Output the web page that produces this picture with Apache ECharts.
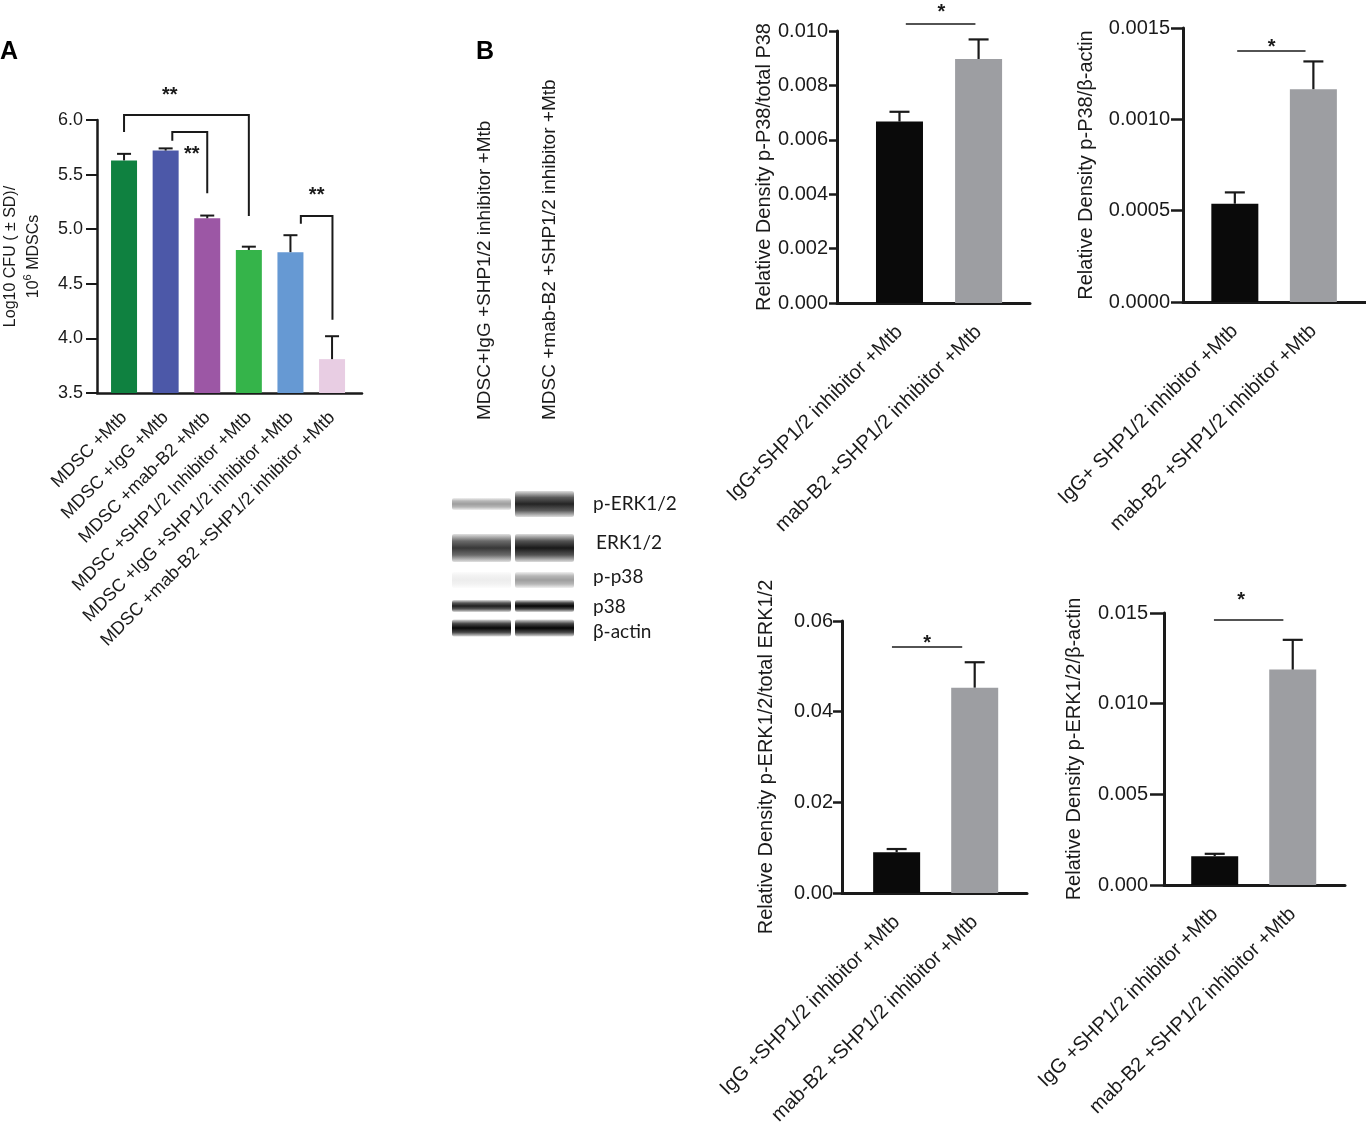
<!DOCTYPE html>
<html>
<head>
<meta charset="utf-8">
<script src="https://cdn.jsdelivr.net/npm/echarts@6/dist/echarts.min.js"></script>
<style>
  html, body { margin: 0; padding: 0; background: #fff; }
  #main { width: 1366px; height: 1128px; }
</style>
</head>
<body>
<div id="main"></div>
<script>
const FONT = '"Liberation Sans", Arial, sans-serif';
const INK = '#1a1a1a';

// ---- Panel A: Log10 CFU per 10^6 MDSCs ----
const groupsA = [
  'MDSC +Mtb',
  'MDSC +IgG +Mtb',
  'MDSC +mab-B2 +Mtb',
  'MDSC +SHP1/2 Inhibitor +Mtb',
  'MDSC +IgG +SHP1/2 inhibitor +Mtb',
  'MDSC +mab-B2 +SHP1/2 inhibitor +Mtb'
];
const cfuMean = [5.63, 5.72, 5.10, 4.81, 4.79, 3.81];
const cfuSD = [0.06, 0.02, 0.025, 0.03, 0.155, 0.21];
const colorsA = ['#0f8140', '#4c58a8', '#9c57a5', '#35b44a', '#6699d3', '#e8cde3'];
// brackets: [from, to, top, left leg end, right leg end, star x, star y]
const bracketsA = [
  [0, 3, 6.046, 5.89, 5.12, 1.1, 6.268],
  [1.16, 2, 5.89, 5.81, 5.33, 1.63, 5.734],
  [4.25, 5.01, 5.12, 5.05, 4.17, 4.63, 5.353]
];

// ---- Panel B: relative densities ----
const p38TotalLabels = ['IgG+SHP1/2 inhibitor +Mtb', 'mab-B2 +SHP1/2 inhibitor +Mtb'];
const p38TotalMean = [0.00667, 0.00897];
const p38TotalSD = [0.00036, 0.00072];

const p38ActinLabels = ['IgG+ SHP1/2 inhibitor +Mtb', 'mab-B2 +SHP1/2 inhibitor +Mtb'];
const p38ActinMean = [0.000538, 0.001165];
const p38ActinSD = [0.000062, 0.000152];

const erkTotalLabels = ['IgG +SHP1/2 inhibitor +Mtb', 'mab-B2 +SHP1/2 inhibitor +Mtb'];
const erkTotalMean = [0.0090, 0.0453];
const erkTotalSD = [0.0007, 0.0056];

const erkActinLabels = ['IgG +SHP1/2 inhibitor +Mtb', 'mab-B2 +SHP1/2 inhibitor +Mtb'];
const erkActinMean = [0.00159, 0.01188];
const erkActinSD = [0.00013, 0.00164];

const colorsB = ['#0a0a0a', '#9d9ea2'];

// significance line: [from, to, y, star x, star y]
const sigP38Total = [0.08, 0.96, 0.01026, 0.53, 0.01086];
const sigP38Actin = [0.03, 0.90, 0.001374, 0.47, 0.001418];
const sigErkTotal = [-0.06, 0.84, 0.05429, 0.39, 0.05604];
const sigErkActin = [-0.01, 0.88, 0.014615, 0.34, 0.01599];

// ---- western blot (band intensity 0..1) ----
const blotBands = ['p-ERK1/2', 'ERK1/2', 'p-p38', 'p38', 'β-actin'];
const laneIgG = [0.38, 0.78, 0.07, 0.88, 0.97];
const laneMab = [0.86, 0.90, 0.38, 0.98, 0.98];
const lanes = ['MDSC+IgG +SHP1/2 inhibitor +Mtb', 'MDSC +mab-B2 +SHP1/2 inhibitor +Mtb'];

// blot layout (pixels)
const blotLaneX = [452, 515];
const blotLaneW = 59;
const blotBandY = [504, 548, 580, 606, 628];
const blotBandH = [[12, 26], [28, 28], [16, 16], [12, 12], [17, 17]];
const blotLabelY = [504, 543, 577, 607, 632];

function errRender(cap, lw) {
  return function (params, api) {
    const x = api.value(0), m = api.value(1), s = api.value(2);
    const b = api.coord([x, m]);
    const t = api.coord([x, m + s]);
    const st = { stroke: INK, lineWidth: lw };
    return {
      type: 'group',
      children: [
        { type: 'line', shape: { x1: b[0], y1: b[1], x2: t[0], y2: t[1] }, style: st },
        { type: 'line', shape: { x1: t[0] - cap / 2, y1: t[1], x2: t[0] + cap / 2, y2: t[1] }, style: st }
      ]
    };
  };
}

function bracketRender(params, api) {
  const p1 = api.coord([api.value(0), api.value(3)]);
  const p2 = api.coord([api.value(0), api.value(2)]);
  const p3 = api.coord([api.value(1), api.value(2)]);
  const p4 = api.coord([api.value(1), api.value(4)]);
  const s = api.coord([api.value(5), api.value(6)]);
  return {
    type: 'group',
    children: [
      { type: 'polyline', shape: { points: [p1, p2, p3, p4] }, style: { stroke: INK, lineWidth: 2, fill: null } },
      { type: 'text', x: s[0], y: s[1] + 5, style: { text: '**', font: 'bold 20px ' + FONT, fill: INK, align: 'center', verticalAlign: 'middle' } }
    ]
  };
}

function sigRender(params, api) {
  const a = api.coord([api.value(0), api.value(2)]);
  const b = api.coord([api.value(1), api.value(2)]);
  const s = api.coord([api.value(3), api.value(4)]);
  return {
    type: 'group',
    children: [
      { type: 'line', shape: { x1: a[0], y1: a[1], x2: b[0], y2: b[1] }, style: { stroke: INK, lineWidth: 1.5 } },
      { type: 'text', x: s[0], y: s[1] + 5, style: { text: '*', font: 'bold 20px ' + FONT, fill: INK, align: 'center', verticalAlign: 'middle' } }
    ]
  };
}

const panelsB = [
  { labels: p38TotalLabels, mean: p38TotalMean, sd: p38TotalSD, sig: sigP38Total,
    name: 'Relative Density p-P38/total P38', max: 0.010, interval: 0.002, dec: 3,
    grid: { left: 837, top: 31, width: 193, height: 272 }, xr: [-0.79, 1.65],
    nameGap: 60, tick: 8, margin: 9 },
  { labels: p38ActinLabels, mean: p38ActinMean, sd: p38ActinSD, sig: sigP38Actin,
    name: 'Relative Density p-P38/β-actin', max: 0.0015, interval: 0.0005, dec: 4,
    grid: { left: 1183, top: 28, width: 183, height: 274 }, xr: [-0.66, 1.67],
    nameGap: 87, tick: 12, margin: 13 },
  { labels: erkTotalLabels, mean: erkTotalMean, sd: erkTotalSD, sig: sigErkTotal,
    name: 'Relative Density p-ERK1/2/total ERK1/2', max: 0.06, interval: 0.02, dec: 2,
    grid: { left: 842, top: 621, width: 185, height: 272 }, xr: [-0.70, 1.67],
    nameGap: 66, tick: 9, margin: 9 },
  { labels: erkActinLabels, mean: erkActinMean, sd: erkActinSD, sig: sigErkActin,
    name: 'Relative Density p-ERK1/2/β-actin', max: 0.015, interval: 0.005, dec: 3,
    grid: { left: 1164, top: 613, width: 181, height: 272 }, xr: [-0.65, 1.67],
    nameGap: 80, tick: 14, margin: 16 }
];

const grids = [{ left: 97, top: 120, width: 265, height: 273, containLabel: false }];
const xAxes = [{
  gridIndex: 0, type: 'value', min: -0.65, max: 5.72,
  axisLine: { show: true, onZero: false, lineStyle: { color: INK, width: 2.5 } },
  axisTick: { show: false }, splitLine: { show: false },
  axisLabel: {
    customValues: groupsA.map((g, i) => i),
    formatter: v => groupsA[Math.round(v)],
    rotate: 45, margin: 22, padding: [28, 0, 0, 0],
    fontSize: 18, fontFamily: FONT, color: INK
  }
}];
const yAxes = [{
  gridIndex: 0, type: 'value', min: 3.5, max: 6.0, interval: 0.5,
  axisLine: { show: true, onZero: false, lineStyle: { color: INK, width: 2.5 } },
  axisTick: { show: true, length: 11, lineStyle: { color: INK, width: 2 } },
  splitLine: { show: false },
  axisLabel: { formatter: v => v.toFixed(1), fontSize: 18, fontFamily: FONT, color: INK, margin: 14 },
  name: '{n|Log10 CFU ( ± SD)/}\n{n|10}{s|6}{n| MDSCs}',
  nameLocation: 'middle', nameGap: 52,
  nameTextStyle: {
    rich: {
      n: { fontSize: 16, fontFamily: FONT, color: INK, lineHeight: 23 },
      s: { fontSize: 11, fontFamily: FONT, color: INK, lineHeight: 23, verticalAlign: 'top', padding: [0, 0, 6, 0] }
    }
  }
}];
const series = [
  {
    type: 'bar', xAxisIndex: 0, yAxisIndex: 0, barWidth: 26,
    data: cfuMean.map((v, i) => ({ value: [i, v], itemStyle: { color: colorsA[i] } }))
  },
  {
    type: 'custom', xAxisIndex: 0, yAxisIndex: 0, z: 3,
    data: cfuMean.map((v, i) => [i, v, cfuSD[i]]), encode: { x: 0, y: 1 },
    renderItem: errRender(14, 2)
  },
  {
    type: 'custom', xAxisIndex: 0, yAxisIndex: 0, z: 4,
    data: bracketsA, encode: { x: [0, 1], y: [2, 3, 4] },
    renderItem: bracketRender
  }
];

panelsB.forEach((p, k) => {
  const gi = k + 1;
  grids.push(Object.assign({ containLabel: false }, p.grid));
  xAxes.push({
    gridIndex: gi, type: 'value', min: p.xr[0], max: p.xr[1],
    axisLine: { show: true, onZero: false, lineStyle: { color: INK, width: 3 } },
    axisTick: { show: false }, splitLine: { show: false },
    axisLabel: {
      customValues: p.labels.map((l, i) => i),
      formatter: v => p.labels[Math.round(v)],
      rotate: 45, margin: 26, padding: [38, 0, 0, 0],
      fontSize: 20, fontFamily: FONT, color: INK
    }
  });
  yAxes.push({
    gridIndex: gi, type: 'value', min: 0, max: p.max, interval: p.interval,
    axisLine: { show: true, onZero: false, lineStyle: { color: INK, width: 3 } },
    axisTick: { show: true, length: p.tick, lineStyle: { color: INK, width: 2.5 } },
    splitLine: { show: false },
    axisLabel: { formatter: v => v.toFixed(p.dec), fontSize: 20, fontFamily: FONT, color: INK, margin: p.margin },
    name: p.name, nameLocation: 'middle', nameGap: p.nameGap,
    nameTextStyle: { fontSize: 20, fontFamily: FONT, color: INK }
  });
  series.push({
    type: 'bar', xAxisIndex: gi, yAxisIndex: gi, barWidth: 47,
    data: p.mean.map((v, i) => ({ value: [i, v], itemStyle: { color: colorsB[i] } }))
  });
  series.push({
    type: 'custom', xAxisIndex: gi, yAxisIndex: gi, z: 3,
    data: p.mean.map((v, i) => [i, v, p.sd[i]]), encode: { x: 0, y: 1 },
    renderItem: errRender(20, 2.2)
  });
  series.push({
    type: 'custom', xAxisIndex: gi, yAxisIndex: gi, z: 4,
    data: [p.sig], encode: { x: [0, 1, 3], y: [2, 4] },
    renderItem: sigRender
  });
});

// graphic: panel letters, lane captions, blot
const graphic = [
  { type: 'text', left: 0, top: 40, style: { text: 'A', font: 'bold 25px ' + FONT, fill: '#000' } },
  { type: 'text', left: 476, top: 40, style: { text: 'B', font: 'bold 25px ' + FONT, fill: '#000' } }
];
const laneCaptionX = [485, 550];
lanes.forEach((t, j) => {
  graphic.push({
    type: 'text', x: laneCaptionX[j], y: 420, rotation: Math.PI / 2,
    style: { text: t, font: '19px ' + FONT, fill: INK, align: 'left', verticalAlign: 'middle' }
  });
});
function bandFill(I) {
  const g = c => { const v = Math.round(255 * (1 - I * c)); return 'rgb(' + v + ',' + v + ',' + v + ')'; };
  return {
    type: 'linear', x: 0, y: 0, x2: 0, y2: 1,
    colorStops: [
      { offset: 0, color: g(0.15) }, { offset: 0.25, color: g(0.75) },
      { offset: 0.5, color: g(1) }, { offset: 0.75, color: g(0.75) }, { offset: 1, color: g(0.15) }
    ]
  };
}
blotBands.forEach((name, i) => {
  [laneIgG[i], laneMab[i]].forEach((I, j) => {
    const h = blotBandH[i][j];
    graphic.push({
      type: 'rect',
      shape: { x: blotLaneX[j], y: blotBandY[i] - h / 2, width: blotLaneW, height: h, r: 2 },
      style: { fill: bandFill(I) }
    });
  });
  graphic.push({
    type: 'text', x: i === 1 ? 596 : 593, y: blotLabelY[i],
    style: { text: name, font: '19px Lato, "Open Sans", sans-serif', fill: INK, align: 'left', verticalAlign: 'middle' }
  });
});

const chart = echarts.init(document.getElementById('main'));
chart.setOption({
  animation: false,
  backgroundColor: '#fff',
  grid: grids,
  xAxis: xAxes,
  yAxis: yAxes,
  series: series,
  graphic: graphic
});
</script>
</body>
</html>
